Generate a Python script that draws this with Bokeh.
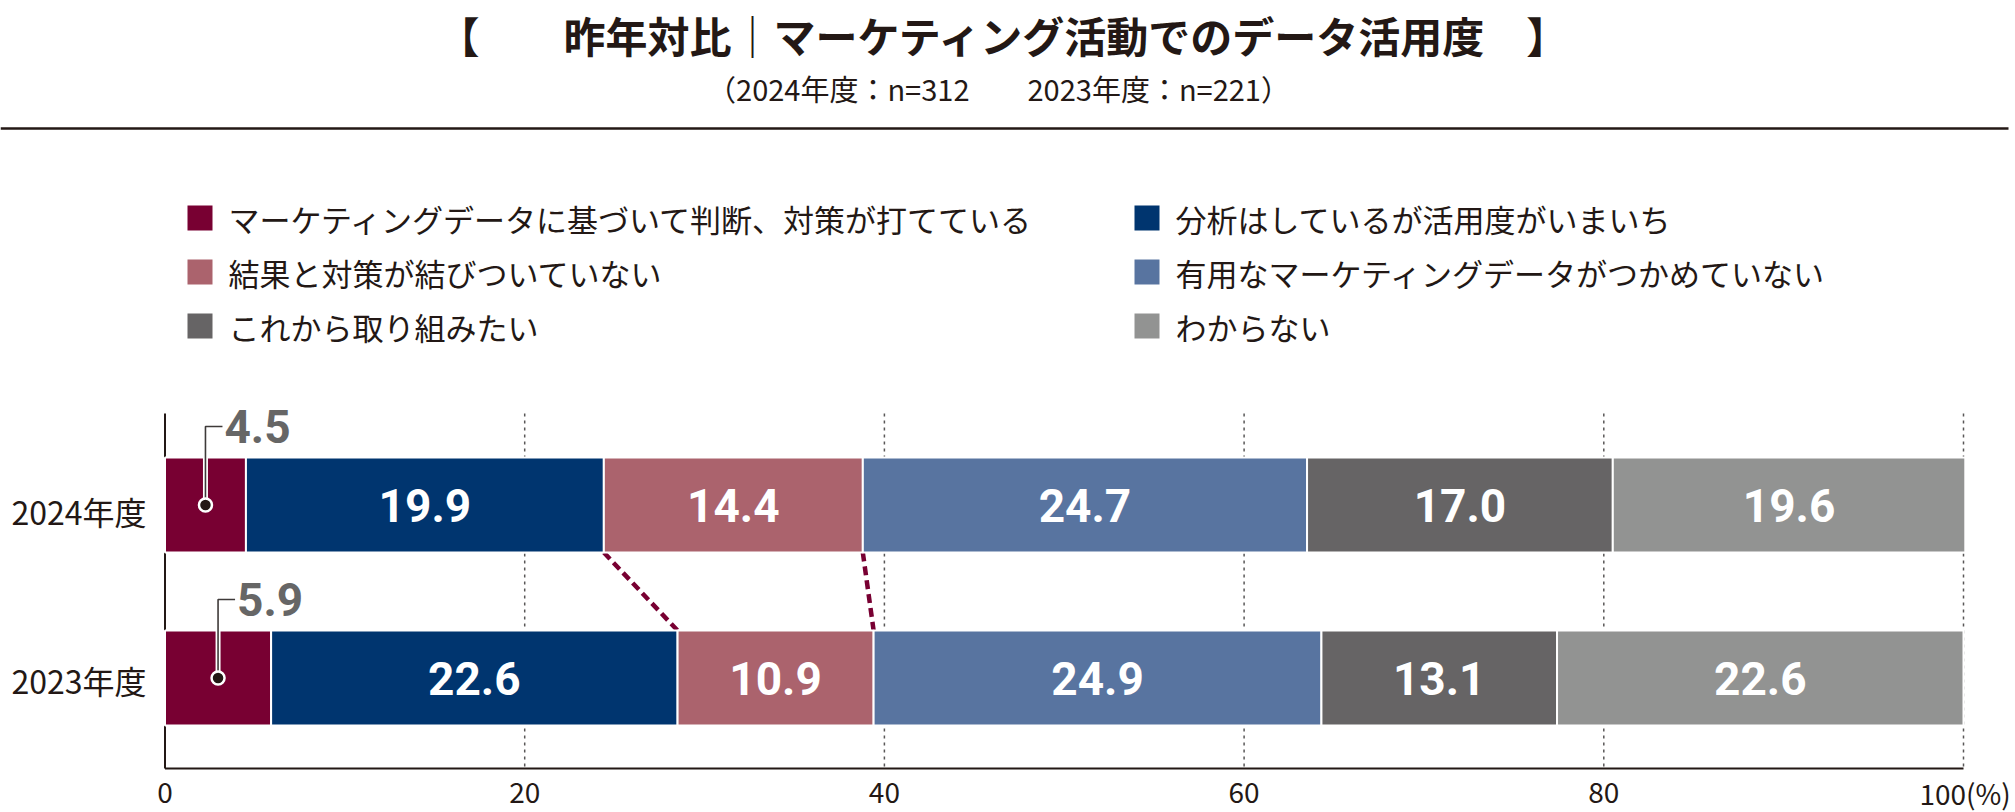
from bokeh.plotting import figure
from bokeh.models import ColumnDataSource, Range1d
from bokeh.core.properties import value
from bokeh.embed import file_html
from bokeh.resources import INLINE

# ---------------- data ----------------
title_text = "【　　昨年対比｜マーケティング活動でのデータ活用度　】"
subtitle_text = "（2024年度：n=312　　2023年度：n=221）"
years = ["2024年度", "2023年度"]
categories = [
    "マーケティングデータに基づいて判断、対策が打てている",
    "分析はしているが活用度がいまいち",
    "結果と対策が結びついていない",
    "有用なマーケティングデータがつかめていない",
    "これから取り組みたい",
    "わからない",
]
colors = ["#780032", "#00356f", "#ab636d", "#5874a0", "#666465", "#929392"]
values_2024 = [4.5, 19.9, 14.4, 24.7, 17.0, 19.6]
values_2023 = [5.9, 22.6, 10.9, 24.9, 13.1, 22.6]
x_ticks = [0, 20, 40, 60, 80, 100]
x_tick_labels = ["0", "20", "40", "60", "80", "100(%)"]

# ---------------- layout constants ----------------
W, H = 2015, 812
X0_PX, X100_PX = 164.5, 1963.0
PPU = (X100_PX - X0_PX) / 100.0


def xd(px):
    return (px - X0_PX) / PPU


def dx(px):
    return px / PPU


ROW_Y = [504.5, 677.5]
BAR_H = 95
GRID_TOP, AXIS_Y = 413, 768
TXT = "#231815"
JP = value("Noto Sans CJK JP")

p = figure(width=W, height=H, output_backend="svg", toolbar_location=None,
           x_range=Range1d(xd(0), xd(W)), y_range=Range1d(H, 0),
           x_axis_type=None, y_axis_type=None, min_border=0,
           outline_line_color=None, background_fill_color="white",
           border_fill_color="white")
p.grid.visible = False

# ---------------- title ----------------
p.text(x=[xd(1004)], y=[34], text=[title_text], text_font=JP,
       text_font_size="42px", text_font_style="bold", text_color=TXT,
       text_align="center", text_baseline="middle")
p.text(x=[xd(998)], y=[87], text=[subtitle_text], text_font=JP,
       text_font_size="29px", text_color=TXT,
       text_align="center", text_baseline="middle")
p.segment(x0=[xd(0)], y0=[128], x1=[xd(2008)], y1=[128],
          line_color="#231815", line_width=2.5)

# ---------------- legend ----------------
leg_x_sq = [xd(199.5), xd(1146.5)]
leg_x_tx = [xd(228), xd(1175)]
leg_y = [217.5, 271.5, 325.5]
lsrc = ColumnDataSource(dict(
    xs=[leg_x_sq[i % 2] for i in range(len(categories))],
    xt=[leg_x_tx[i % 2] for i in range(len(categories))],
    y=[leg_y[i // 2] for i in range(len(categories))],
    text=categories, color=colors))
p.scatter(x="xs", y="y", source=lsrc, marker="square", size=25,
          fill_color="color", line_color=None)
p.text(x="xt", y="y", text="text", source=lsrc, text_font=JP,
       text_font_size="31px", text_color=TXT, text_align="left",
       text_baseline="middle")

# ---------------- grid + axes ----------------
p.segment(x0=x_ticks[1:], y0=[GRID_TOP] * 5, x1=x_ticks[1:], y1=[AXIS_Y] * 5,
          line_color="#595757", line_width=1.5, line_dash="3 4")
p.segment(x0=[0, 0], y0=[GRID_TOP, AXIS_Y], x1=[0, x_ticks[-1]], y1=[AXIS_Y, AXIS_Y],
          line_color=TXT, line_width=2)
tsrc = ColumnDataSource(dict(
    x=x_ticks, text=x_tick_labels,
    align=["center"] * 5 + ["left"],
    off=[0] * 5 + [-44]))
p.text(x="x", y=792, text="text", source=tsrc, text_font=JP,
       text_font_size="28px", text_color=TXT, text_align="align",
       x_offset="off", text_baseline="middle")

# year labels
p.text(x=[xd(146)] * 2, y=[ROW_Y[0] + 6, ROW_Y[1] + 2], text=years, text_font=JP,
       text_font_size="32px", text_color=TXT, text_align="right",
       text_baseline="middle")

# ---------------- bars ----------------
all_vals = [values_2024, values_2023]
bl, br, by, bc, bt = [], [], [], [], []
cums = []
for yi, vals in enumerate(all_vals):
    left = 0.0
    cum = []
    for ci, v in enumerate(vals):
        bl.append(left)
        br.append(left + v)
        by.append(ROW_Y[yi])
        bc.append(colors[ci])
        bt.append(f"{v:.1f}")
        left += v
        cum.append(left)
    cums.append(cum)
bsrc = ColumnDataSource(dict(left=bl, right=br, y=by, color=bc, text=bt,
                             mid=[(a + b) / 2 for a, b in zip(bl, br)]))

# dashed connectors (between the 2nd/3rd and 3rd/4th segment borders)
for k in (1, 2):
    p.segment(x0=[cums[0][k]], y0=[ROW_Y[0] + BAR_H / 2],
              x1=[cums[1][k]], y1=[ROW_Y[1] - BAR_H / 2],
              line_color=colors[0], line_width=4.5, line_dash="9 5")

p.hbar(y="y", left="left", right="right", height=BAR_H, source=bsrc,
       fill_color="color", line_color="white", line_width=2)

n = len(categories)
inner = [i for i in range(len(bl)) if i % n != 0]
isrc = ColumnDataSource(dict(x=[bsrc.data["mid"][i] for i in inner],
                             y=[by[i] for i in inner],
                             text=[bt[i] for i in inner]))
p.text(x="x", y="y", text="text", source=isrc, text_font=value("Roboto"),
       text_font_size="46px", text_font_style="bold", text_color="white",
       text_align="center", text_baseline="middle")

# outside labels with leader lines for first category
for yi in range(2):
    i = yi * n
    mid = bsrc.data["mid"][i]
    ty = ROW_Y[yi] - BAR_H / 2 - 31
    xs = [mid, mid, mid + dx(17)]
    ys = [ROW_Y[yi], ty, ty]
    p.line(x=xs, y=ys, line_color="white", line_width=5)
    p.line(x=xs, y=ys, line_color="#3e3a39", line_width=1.6)
    p.scatter(x=[mid], y=[ROW_Y[yi]], size=13, fill_color="#231815",
              line_color="white", line_width=2.5)
    p.text(x=[mid + dx(19)], y=[ty], text=[bt[i]], text_font=value("Roboto"),
           text_font_size="46px", text_font_style="bold", text_color="#666666",
           text_align="left", text_baseline="middle")

open("out.html", "w").write(file_html(p, INLINE))
